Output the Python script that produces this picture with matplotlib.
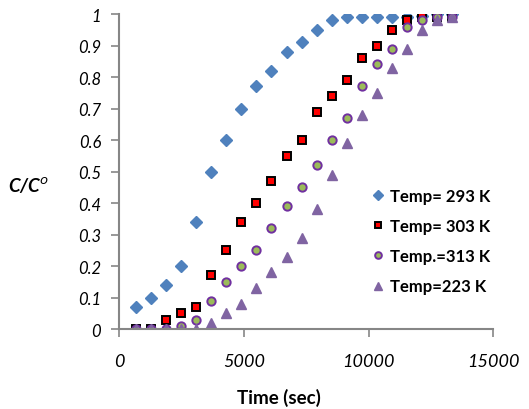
import matplotlib
matplotlib.use("Agg")
import matplotlib.pyplot as plt

time_sec = [670, 1270, 1880, 2480, 3080, 3690, 4290, 4900, 5500, 6100, 6710,
            7310, 7920, 8520, 9130, 9730, 10340, 10940, 11550, 12150, 12760, 13360]
c_293 = [0.07, 0.10, 0.14, 0.20, 0.34, 0.50, 0.60, 0.70, 0.77, 0.82, 0.88,
         0.91, 0.95, 0.98, 0.99, 0.99, 0.99, 0.99, 0.99, 0.995, 1.0, 1.0]
c_303 = [0.0, 0.0, 0.03, 0.05, 0.07, 0.17, 0.25, 0.34, 0.40, 0.47, 0.55,
         0.60, 0.69, 0.74, 0.79, 0.86, 0.90, 0.95, 0.98, 0.99, 0.99, 0.99]
c_313 = [0.0, 0.0, 0.0, 0.01, 0.03, 0.09, 0.15, 0.20, 0.25, 0.32, 0.39,
         0.45, 0.52, 0.60, 0.67, 0.77, 0.84, 0.89, 0.96, 0.98, 0.99, 0.99]
c_223 = [0.0, 0.0, 0.0, 0.0, 0.0, 0.02, 0.05, 0.08, 0.13, 0.18, 0.23,
         0.29, 0.38, 0.49, 0.59, 0.68, 0.75, 0.83, 0.89, 0.95, 0.98, 0.99]
labels = ["Temp= 293 K", "Temp= 303 K", "Temp.=313 K", "Temp=223 K"]
x_ticks = [0, 5000, 10000, 15000]
y_ticks = [0, 0.1, 0.2, 0.3, 0.4, 0.5, 0.6, 0.7, 0.8, 0.9, 1]
y_tick_labels = ["0", "0.1", "0.2", "0.3", "0.4", "0.5", "0.6", "0.7", "0.8", "0.9", "1"]

plt.rcParams['font.family'] = ['Lato', 'DejaVu Sans']

fig = plt.figure(figsize=(5.29, 4.10), dpi=100)
ax = fig.add_axes([0.2255, 0.195, 0.707, 0.7684])

ax.plot(time_sec, c_293, linestyle='none', marker='D', markersize=5.8,
        color='#4F81BD', markeredgecolor='#4F81BD', label=labels[0])
ax.plot(time_sec, c_303, linestyle='none', marker='s', markersize=5.6,
        markerfacecolor='#FF0000', markeredgecolor='black', markeredgewidth=1.4,
        label=labels[1])
ax.plot(time_sec, c_313, linestyle='none', marker='o', markersize=6,
        markerfacecolor='#9BBB59', markeredgecolor='#7030A0', markeredgewidth=1.4,
        label=labels[2])
ax.plot(time_sec, c_223, linestyle='none', marker='^', markersize=7,
        color='#8064A2', markeredgecolor='#8064A2', label=labels[3])

ax.set_xlim(0, 15000)
ax.set_ylim(0, 1)
ax.set_xticks(x_ticks)
ax.set_xticklabels([str(v) for v in x_ticks], fontsize=13, style='italic')
ax.set_yticks(y_ticks)
ax.set_yticklabels(y_tick_labels, fontsize=12, style='italic')

for s in ['top', 'right']:
    ax.spines[s].set_visible(False)
for s in ['left', 'bottom']:
    ax.spines[s].set_color('#868686')
    ax.spines[s].set_linewidth(1.5)
ax.tick_params(axis='both', colors='#868686', length=6, width=1.2, labelcolor='black')
ax.tick_params(axis='y', pad=7)
ax.tick_params(axis='x', pad=11)

fig.text(279 / 529, 1 - 398 / 410, "Time (sec)", fontsize=13.5, fontweight='bold',
         ha='center', va='center')
fig.text(28 / 529, 1 - 186 / 410, r"C/C$^{o}$", fontsize=13.5, fontweight='bold',
         style='italic', ha='center', va='center')

leg = ax.legend(loc='upper left', bbox_to_anchor=(0.658, 0.469), frameon=False,
                handlelength=0.7, handletextpad=0.35, labelspacing=0.85,
                markerscale=0.8, borderaxespad=0,
                prop={'weight': 'bold', 'size': 12})

fig.savefig("out.png", dpi=100)
